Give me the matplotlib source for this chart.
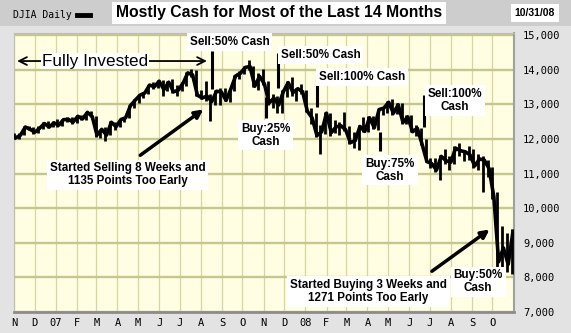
import matplotlib
matplotlib.use('Agg')
import matplotlib.pyplot as plt
from matplotlib.patches import Rectangle
from matplotlib.lines import Line2D
import pandas as pd
from datetime import datetime

plt.rcParams['font.family'] = ['Liberation Sans', 'DejaVu Sans']

# DJIA weekly closes / highs / lows, week ending Fridays, Nov 2006 - Oct 2008
close_06 = [12032, 12108, 12342, 12280, 12194, 12307, 12445, 12343, 12463]
high_06 = [12160, 12180, 12360, 12360, 12330, 12360, 12480, 12510, 12520]
low_06 = [11990, 11990, 12100, 12250, 12130, 12180, 12290, 12320, 12330]

close_07 = [12398, 12556, 12565, 12487, 12653, 12580, 12767, 12647, 12114, 12276,
            12110, 12481, 12354, 12560, 12612, 12961, 13120, 13264, 13327, 13556,
            13507, 13668, 13424, 13639, 13360, 13408, 13611, 13907, 13851, 13265,
            13182, 13240, 13079, 13378, 13358, 13113, 13442, 13820, 13896, 14066,
            14093, 13522, 13807, 13595, 13042, 13177, 12980, 13372, 13625, 13339,
            13450, 13366]
high_07 = [12580, 12580, 12620, 12630, 12680, 12700, 12790, 12800, 12650, 12300,
           12340, 12510, 12490, 12580, 12640, 12980, 13140, 13290, 13360, 13570,
           13630, 13690, 13690, 13660, 13720, 13560, 13650, 13930, 14020, 14000,
           13420, 13660, 13300, 13400, 13460, 13460, 13460, 13850, 13960, 14100,
           14280, 14120, 13900, 14020, 13660, 13310, 13230, 13410, 13670, 13780,
           13460, 13580]
low_07 = [12340, 12370, 12480, 12430, 12450, 12560, 12560, 12630, 12060, 12030,
          11940, 12100, 12250, 12330, 12480, 12600, 12900, 13050, 13180, 13290,
          13430, 13470, 13250, 13390, 13340, 13240, 13390, 13520, 13780, 13230,
          13140, 13100, 12520, 12990, 12980, 13090, 13080, 13380, 13740, 13880,
          13980, 13500, 13400, 13570, 12980, 12900, 12760, 12740, 13210, 13250,
          13090, 13310]

close_08 = [12800, 12606, 12099, 12207, 12743, 12182, 12348, 12381, 12266, 11894,
            11951, 12361, 12216, 12610, 12325, 12849, 12891, 13058, 12745, 12986,
            12480, 12638, 12209, 12307, 11843, 11346, 11288, 11100, 11496, 11370,
            11326, 11734, 11660, 11628, 11543, 11220, 11421, 11388, 11143, 10325,
            8451, 8852, 8378, 9325]
high_08 = [13400, 12880, 12760, 12400, 12790, 12750, 12550, 12500, 12770, 12380,
           12210, 12390, 12620, 12650, 12650, 12870, 12910, 13100, 13140, 13030,
           13030, 12700, 12700, 12400, 12320, 12000, 11460, 11460, 11530, 11700,
           11500, 11790, 11870, 11680, 11790, 11700, 11550, 11500, 11390, 11200,
           10470, 9480, 9270, 9410]
low_08 = [12790, 12420, 12050, 11550, 12150, 12090, 12180, 12120, 12240, 11850,
          11730, 11680, 12190, 12200, 12300, 12270, 12700, 12740, 12700, 12720,
          12430, 12420, 12200, 12070, 11830, 11330, 11170, 11030, 10820, 11280,
          11100, 11280, 11500, 11350, 11380, 11150, 11100, 10460, 10900, 10270,
          8100, 8200, 8150, 8100]

closes = close_06 + close_07 + close_08
highs = high_06 + high_07 + high_08
lows = low_06 + low_07 + low_08
weeks = pd.date_range('2006-11-03', periods=len(closes), freq='W-FRI')

month_labels = ['N', 'D', '07', 'F', 'M', 'A', 'M', 'J', 'J', 'A', 'S', 'O',
                'N', 'D', '08', 'F', 'M', 'A', 'M', 'J', 'J', 'A', 'S', 'O']
y_ticks = [7000, 8000, 9000, 10000, 11000, 12000, 13000, 14000, 15000]

# signal markers: date, top, bottom
sig_dates = ['2007-08-17', '2007-11-22', '2007-11-04', '2008-01-18', '2008-04-19', '2008-06-23']
sig_top = [14550, 14480, 13210, 13760, 12200, 13270]
sig_bot = [13450, 13470, 12610, 12930, 11650, 12350]

fig = plt.figure(figsize=(5.71, 3.33), dpi=100, facecolor='#e3e3e3')
fig.patches.append(Rectangle((0, 1 - 26 / 333), 1, 26 / 333, transform=fig.transFigure,
                             facecolor='#cdcdcd', edgecolor='none', zorder=0))

ax = fig.add_axes([14 / 571, 21 / 333, 500 / 571, 279 / 333])
ax.set_facecolor('#fffee2')
ax.set_xlim(datetime(2006, 10, 31, 12), datetime(2008, 11, 1, 12))
ax.set_ylim(7000, 15060)

months = pd.date_range('2006-11-01', periods=len(month_labels), freq='MS')
ax.set_xticks(months)
ax.set_xticklabels(month_labels, family='DejaVu Sans Mono', fontsize=7.5)
ax.set_yticks(y_ticks)
ax.set_yticklabels([f'{v:,}' for v in y_ticks], family='DejaVu Sans Mono', fontsize=7.5)
ax.yaxis.tick_right()
ax.tick_params(axis='y', length=0, pad=6.5)
ax.tick_params(axis='x', length=0, pad=4)
ax.xaxis.grid(True, color='#d6d6a2', lw=0.9)
ax.yaxis.grid(True, color='#c6c68e', lw=1.7)
ax.set_axisbelow(True)
for s in ['top', 'left']:
    ax.spines[s].set_color('#bdbdbd')
    ax.spines[s].set_linewidth(0.8)
ax.spines['bottom'].set_color('#8c8c8c')
ax.spines['bottom'].set_linewidth(2)
ax.spines['right'].set_color('#a0a0a0')
ax.spines['right'].set_linewidth(1.5)

# price bars
ax.vlines(weeks - pd.Timedelta(days=2), lows, highs, color='k', lw=2.0, zorder=3)
ax.plot(weeks, closes, color='k', lw=2.6, zorder=3)

# signal lines
ax.vlines(pd.to_datetime(sig_dates), sig_bot, sig_top, color='k', lw=2.2, zorder=4)

box = dict(boxstyle='square,pad=0.25', fc='white', ec='none')
tkw = dict(fontsize=8.4, fontweight='bold', zorder=5, bbox=box, linespacing=1.1)

ax.annotate('', xy=(datetime(2006, 11, 1), 14250), xytext=(datetime(2007, 8, 14), 14250),
            arrowprops=dict(arrowstyle='<->', lw=1.3, color='k', mutation_scale=14), zorder=4)
ax.text(datetime(2007, 2, 27), 14250, 'Fully Invested', fontsize=12.3, ha='center', va='center',
        zorder=5, bbox=dict(boxstyle='square,pad=0.05', fc='white', ec='none'))

ax.text(datetime(2007, 9, 12), 14800, 'Sell:50% Cash', ha='center', va='center', **tkw)
ax.text(datetime(2007, 11, 26), 14430, 'Sell:50% Cash', ha='left', va='center', **tkw)
ax.text(datetime(2007, 11, 4), 12110, 'Buy:25%\nCash', ha='center', va='center', **tkw)
ax.text(datetime(2008, 1, 21), 13790, 'Sell:100% Cash', ha='left', va='center', **tkw)
ax.text(datetime(2008, 5, 4), 11100, 'Buy:75%\nCash', ha='center', va='center', **tkw)
ax.text(datetime(2008, 8, 7), 13100, 'Sell:100%\nCash', ha='center', va='center', **tkw)
ax.text(datetime(2008, 9, 10), 7870, 'Buy:50%\nCash', ha='center', va='center', **tkw)
ax.text(datetime(2007, 4, 16), 10960, 'Started Selling 8 Weeks and\n1135 Points Too Early',
        ha='center', va='center', **tkw)
ax.text(datetime(2008, 4, 2), 7600, 'Started Buying 3 Weeks and\n1271 Points Too Early',
        ha='center', va='center', **tkw)

ax.annotate('', xy=(datetime(2007, 8, 8), 12900), xytext=(datetime(2007, 5, 1), 11480),
            arrowprops=dict(arrowstyle='-|>', lw=2.5, color='k', mutation_scale=12), zorder=4)
ax.annotate('', xy=(datetime(2008, 9, 30), 9430), xytext=(datetime(2008, 7, 1), 8130),
            arrowprops=dict(arrowstyle='-|>', lw=2.5, color='k', mutation_scale=12), zorder=4)

# header
fig.text(279 / 571, 1 - 13 / 333, 'Mostly Cash for Most of the Last 14 Months', ha='center', va='center',
         fontsize=11.3, fontweight='bold',
         bbox=dict(boxstyle='square,pad=0.25', fc='white', ec='none'))
fig.text(535 / 571, 1 - 13 / 333, '10/31/08', ha='center', va='center', fontsize=7.5, fontweight='bold',
         bbox=dict(boxstyle='square,pad=0.4', fc='white', ec='none'))
fig.text(13 / 571, 1 - 15 / 333, 'DJIA Daily', ha='left', va='center', family='DejaVu Sans Mono', fontsize=7)
fig.add_artist(Line2D([77 / 571, 90 / 571], [1 - 15 / 333, 1 - 15 / 333], color='k', lw=3.5,
                      transform=fig.transFigure))

fig.savefig('out.png', dpi=100, facecolor=fig.get_facecolor())
